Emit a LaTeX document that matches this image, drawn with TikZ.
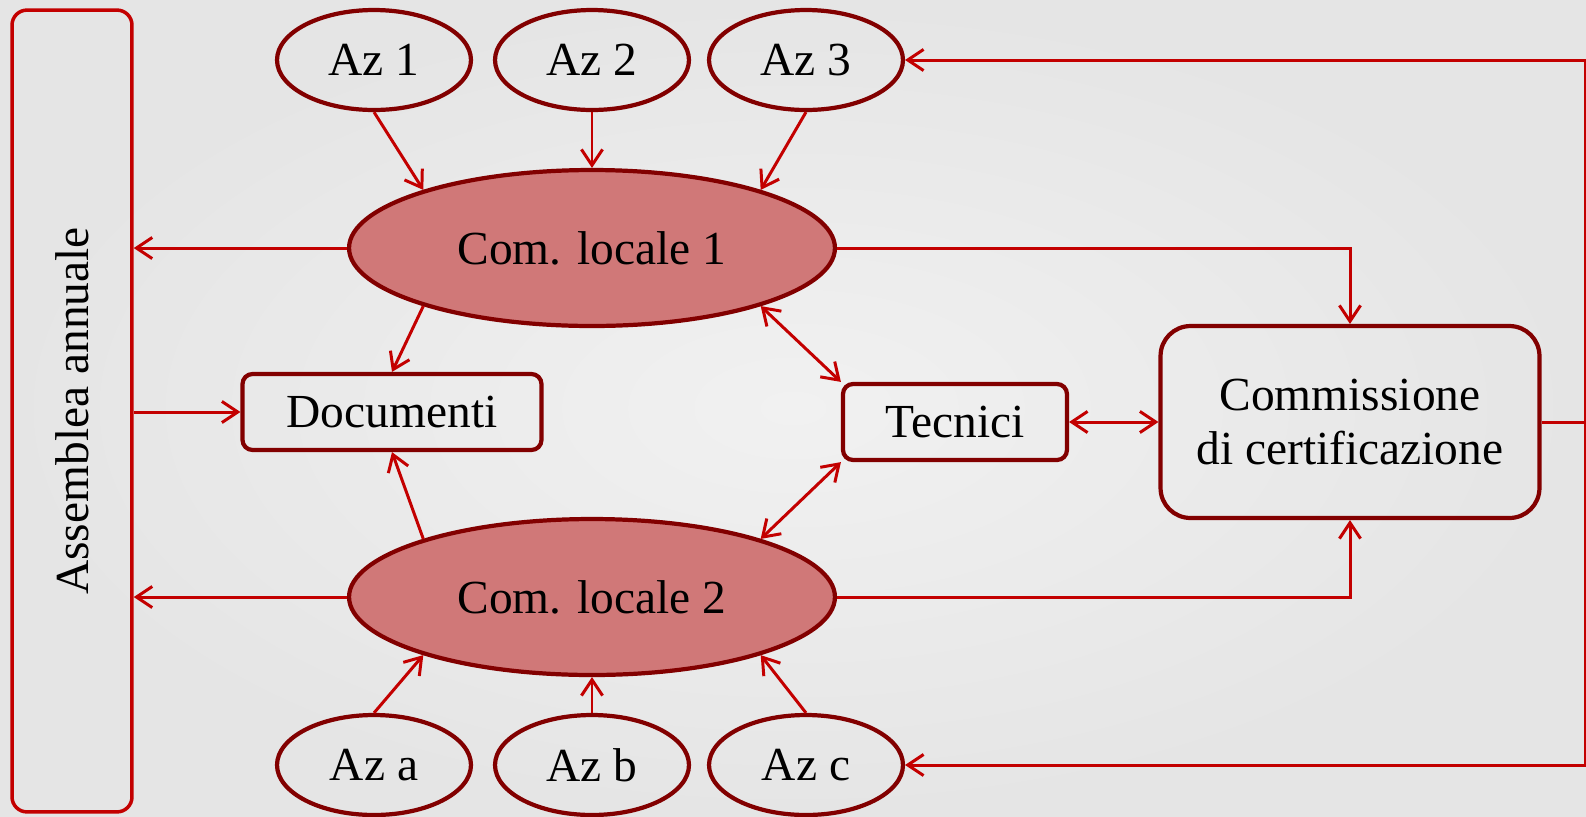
\documentclass[tikz,border=0pt]{standalone}
\usepackage{fontspec}
\setmainfont{Liberation Serif}
\usetikzlibrary{arrows.meta,shapes.geometric}
\definecolor{bordo}{RGB}{130,0,0}
\definecolor{linea}{RGB}{195,0,0}
\definecolor{riemp}{RGB}{208,120,120}
\definecolor{sfondochiaro}{RGB}{241,241,241}
\definecolor{sfondoscuro}{RGB}{229,229,229}
\tikzset{
  az/.style={ellipse, draw=bordo, line width=2.4pt, minimum width=3.88cm, minimum height=2cm, inner sep=0pt},
  comloc/.style={ellipse, draw=bordo, fill=riemp, line width=2.4pt, minimum width=9.72cm, minimum height=3.12cm, inner sep=0pt},
  casella/.style={draw=bordo, line width=2.4pt, rounded corners=0.2cm, inner sep=0pt, align=center},
  freccia/.style={draw=linea, line width=1.7pt},
  >={Straight Barb[length=9pt,width=12pt]}
}

\begin{document}
\begin{tikzpicture}[x=0.02cm, y=-0.02cm, font=\fontsize{27}{31}\selectfont]
\useasboundingbox (0,0) rectangle (1586,816);
\shade[inner color=sfondochiaro, outer color=sfondoscuro] (0,0) rectangle (1586,816);

\node[draw=linea, line width=2pt, rounded corners=0.3cm, minimum width=2.4cm, minimum height=16.04cm] (ass) at (72,411) {};
\node[rotate=90] (asstesto) at (ass) {Assemblea annuale};

\foreach \n/\x in {1/374,2/592,3/806}
\node[az] (az\n) at (\x,60) {Az \n};
\foreach \n/\x in {a/374,b/592,c/806}
\node[az] (az\n) at (\x,765) {Az \n};

\node[comloc] (cl1) at (592,248) {Com. locale 1};
\node[comloc] (cl2) at (592,597) {Com. locale 2};

\node[casella, minimum width=5.98cm, minimum height=1.52cm] (doc) at (392,412) {Documenti};
\node[casella, minimum width=4.48cm, minimum height=1.52cm] (tec) at (955,422) {Tecnici};
\node[casella, rounded corners=0.6cm, minimum width=7.58cm, minimum height=3.84cm] (com) at (1350,422) {Commissione\\di certificazione};

\coordinate (dx) at (1585,422);

\draw[freccia, ->] (az1.south) -- (cl1.161);
\draw[freccia, ->] (az2.south) -- (cl1.north);
\draw[freccia, ->] (az3.south) -- (cl1.19);
\draw[freccia, ->] (aza.north) -- (cl2.199);
\draw[freccia, ->] (azb.north) -- (cl2.south);
\draw[freccia, ->] (azc.north) -- (cl2.-19);

\draw[freccia, ->] (cl1.west) -- (cl1.west -| ass.east);
\draw[freccia, ->] (cl2.west) -- (cl2.west -| ass.east);
\draw[freccia, ->] (doc.west -| ass.east) -- (doc.west);

\draw[freccia, ->] (cl1.199) -- (doc.north);
\draw[freccia, ->] (cl2.161) -- (doc.south);
\draw[freccia, <->] (cl1.-19) -- (tec.north west);
\draw[freccia, <->] (cl2.19) -- (tec.south west);
\draw[freccia, <->] (tec.east) -- (com.west);

\draw[freccia, ->] (cl1.east) -| (com.north);
\draw[freccia, ->] (cl2.east) -| (com.south);

\draw[freccia] (com.east) -- (dx);
\draw[freccia, ->] (dx) |- (az3.east);
\draw[freccia, ->] (dx) |- (azc.east);
\end{tikzpicture}
\end{document}
